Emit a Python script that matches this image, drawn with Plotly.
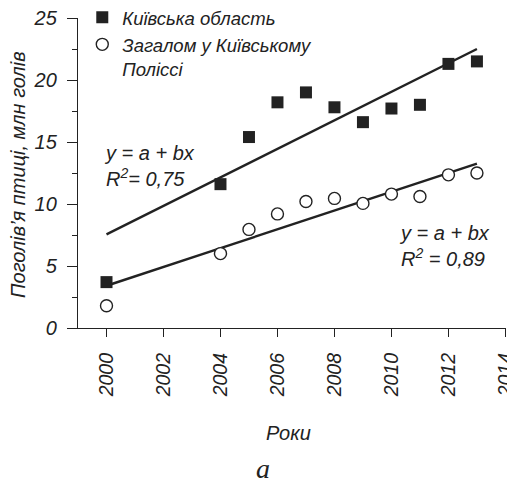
import numpy as np
import plotly.graph_objects as go

years = [2000, 2004, 2005, 2006, 2007, 2008, 2009, 2010, 2011, 2012, 2013]
kyiv_oblast = [3.7, 11.6, 15.4, 18.2, 19.0, 17.8, 16.6, 17.7, 18.0, 21.3, 21.5]
polissia_total = [1.8, 6.0, 7.95, 9.2, 10.2, 10.45, 10.05, 10.8, 10.6, 12.35, 12.5]
x_ticks = [2000, 2002, 2004, 2006, 2008, 2010, 2012, 2014]
y_ticks = [0, 5, 10, 15, 20, 25]

FONT = "Liberation Sans, Arial, sans-serif"
INK = "#222222"

def fit(xs, ys):
    b, a = np.polyfit(xs, ys, 1)
    xx = np.array([min(xs), max(xs)], dtype=float)
    return xx, a + b * xx

fig = go.Figure()
fx, fy = fit(years, kyiv_oblast)
fig.add_trace(go.Scatter(x=fx, y=fy, mode="lines", line=dict(color=INK, width=2.4),
                         showlegend=False, hoverinfo="skip"))
fx2, fy2 = fit(years, polissia_total)
fig.add_trace(go.Scatter(x=fx2, y=fy2, mode="lines", line=dict(color=INK, width=2.4),
                         showlegend=False, hoverinfo="skip"))
fig.add_trace(go.Scatter(x=years, y=kyiv_oblast, mode="markers", name="Київська область",
                         marker=dict(symbol="square", size=12, color=INK,
                                     line=dict(color=INK, width=0))))
fig.add_trace(go.Scatter(x=years, y=polissia_total, mode="markers",
                         name="Загалом у Київському<br>Поліссі",
                         marker=dict(symbol="circle", size=12, color="white",
                                     line=dict(color=INK, width=1.4))))

axis_common = dict(showline=True, linecolor=INK, linewidth=1.3, ticks="outside",
                   tickcolor=INK, showgrid=False, zeroline=False, ticklabeloverflow="allow")

fig.update_xaxes(range=[1999, 2014.02], tickvals=x_ticks, ticktext=[str(v) for v in x_ticks],
                 tickangle=-90, ticklen=8, tickwidth=1.3, ticklabelstandoff=8,
                 tickfont=dict(family=FONT, size=19.5, color=INK, style="italic"),
                 **axis_common)
fig.update_yaxes(range=[0, 25], tickvals=y_ticks, ticklen=10, tickwidth=1.3,
                 ticklabelstandoff=6,
                 tickfont=dict(family=FONT, size=20, color=INK, style="italic"),
                 minor=dict(dtick=2.5, ticklen=5, tickcolor=INK, tickwidth=1.3, ticks="outside"),
                 **axis_common)

ann_font = dict(family=FONT, size=20, color=INK, style="italic")
fig.add_annotation(x=1999.85, y=13.1, xref="x", yref="y", xanchor="left", yanchor="middle",
                   align="left", showarrow=False, font=ann_font,
                   text="y = a + bx<br>R<sup>2</sup>= 0,75")
fig.add_annotation(x=2010.2, y=6.6, xref="x", yref="y", xanchor="left", yanchor="middle",
                   align="left", showarrow=False, font=ann_font,
                   text="y = a + bx<br>R<sup>2</sup> = 0,89")
fig.add_annotation(x=-0.14, y=0.494, xref="paper", yref="paper", textangle=-90,
                   xanchor="center", yanchor="middle",
                   showarrow=False, font=dict(family=FONT, size=20, color=INK, style="italic"),
                   text="Поголів’я птиці, млн голів")
fig.add_annotation(x=0.491, y=-0.339, xref="paper", yref="paper",
                   xanchor="center", yanchor="middle",
                   showarrow=False, font=dict(family=FONT, size=20, color=INK, style="italic"),
                   text="Роки")
fig.add_annotation(x=0.432, y=-0.452, xref="paper", yref="paper",
                   xanchor="center", yanchor="middle",
                   showarrow=False, font=dict(family="Liberation Serif, serif", size=28,
                                               color=INK, style="italic"),
                   text="a")

fig.update_layout(
    width=507, height=478,
    margin=dict(l=70, r=9, t=10, b=158, autoexpand=False),
    plot_bgcolor="white", paper_bgcolor="white",
    legend=dict(x=0.01, y=1.062, xanchor="left", yanchor="top", bgcolor="rgba(0,0,0,0)",
                valign="top", font=dict(family=FONT, size=18.5, color=INK, style="italic"),
                traceorder="normal", tracegroupgap=0),
)

fig.write_html("out.html")
